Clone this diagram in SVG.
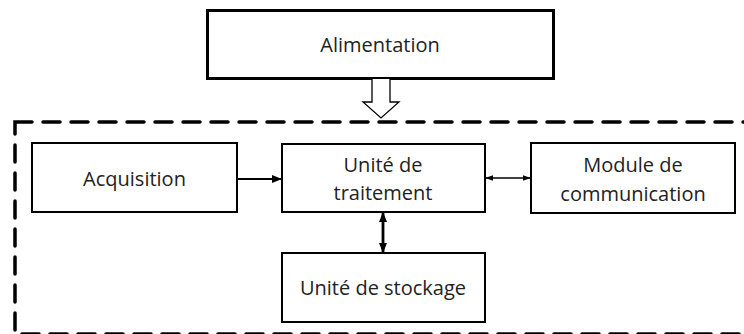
<svg xmlns="http://www.w3.org/2000/svg" width="744" height="334" viewBox="0 0 744 334">
<defs>
<style>
.box{fill:#fff;stroke:#000;stroke-width:2}
.t{font-family:"Open Sans","Liberation Sans",sans-serif;font-size:20px;fill:#222;text-anchor:middle}
.c{stroke:#000;fill:none}
</style>
<marker id="ah" markerUnits="userSpaceOnUse" markerWidth="10" markerHeight="10" viewBox="0 0 10 10" refX="9" refY="5" orient="auto-start-reverse">
<path d="M0,1 L10,5 L0,9 Z" fill="#000"/>
</marker>
<marker id="ahs" markerUnits="userSpaceOnUse" markerWidth="8" markerHeight="8" viewBox="0 0 10 10" refX="9" refY="5" orient="auto-start-reverse">
<path d="M0,1.5 L10,5 L0,8.5 Z" fill="#000"/>
</marker>
</defs>
<rect x="15" y="122" width="760" height="212" fill="none" stroke="#000" stroke-width="3.5" stroke-dasharray="17 11" stroke-linecap="round"/>
<g id="alimentation">
<rect x="207.5" y="10.5" width="346" height="68" fill="#fff" stroke="#000" stroke-width="3"/>
<text class="t" x="380" y="52" font-size="21">Alimentation</text>
</g>
<g id="acquisition">
<rect class="box" x="32" y="143" width="205" height="69"/>
<text class="t" x="134.5" y="186">Acquisition</text>
</g>
<g id="traitement">
<rect class="box" x="282" y="144" width="203" height="68"/>
<text class="t" x="383" y="172">Unité de</text>
<text class="t" x="383" y="200">traitement</text>
</g>
<g id="communication">
<rect class="box" x="531" y="143" width="204" height="70"/>
<text class="t" x="633" y="172">Module de</text>
<text class="t" x="633" y="201">communication</text>
</g>
<g id="stockage">
<rect class="box" x="282" y="253" width="203" height="69"/>
<text class="t" x="383" y="295">Unité de stockage</text>
</g>
<g id="connectors">
<path d="M372,79 V102 H363 L381,118 L399,102 H390 V79" fill="#fff" stroke="#000" stroke-width="1.3"/>
<line class="c" x1="237" y1="179" x2="281" y2="179" stroke-width="2.2" marker-end="url(#ah)"/>
<line class="c" x1="486" y1="178" x2="530" y2="178" stroke-width="1.5" marker-start="url(#ahs)" marker-end="url(#ahs)"/>
<line class="c" x1="383" y1="213" x2="383" y2="252" stroke-width="2.8" marker-start="url(#ah)" marker-end="url(#ah)"/>
</g>
</svg>
